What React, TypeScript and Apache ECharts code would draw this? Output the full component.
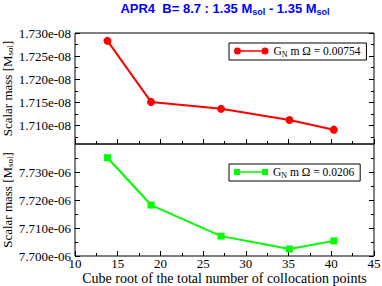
import React, { useEffect, useRef } from 'react';
import * as echarts from 'echarts';

// x: cube root of the total number of collocation points
const xValues = [13.8, 18.9, 27.1, 35.1, 40.3];
// scalar mass, top panel in units of 1e-8 Msol
const topValues = [1.7283, 1.7151, 1.7136, 1.7112, 1.7091];
// scalar mass, bottom panel in units of 1e-6 Msol
const bottomValues = [7.7351, 7.7182, 7.7071, 7.7025, 7.7054];

const topSeriesName = 'G_N m Ω = 0.00754';
const bottomSeriesName = 'G_N m Ω = 0.0206';

const topMajorTicks = [1.71, 1.715, 1.72, 1.725, 1.73];
const topMinorTicks = [1.7075, 1.7125, 1.7175, 1.7225, 1.7275];
const bottomMajorTicks = [7.7, 7.71, 7.72, 7.73];
const bottomMinorTicks = [7.705, 7.715, 7.725, 7.735];
const topExponent = 'e-08';
const bottomExponent = 'e-06';

const SERIF = 'Liberation Serif';

const circleIcon =
  'path://M0,3.5A3.5,3.5,0,1,0,7,3.5A3.5,3.5,0,1,0,0,3.5Z M27.5,3.5A3.5,3.5,0,1,0,34.5,3.5A3.5,3.5,0,1,0,27.5,3.5Z M7,2.75L27.5,2.75L27.5,4.25L7,4.25Z';
const squareIcon =
  'path://M0,0L6,0L6,6L0,6Z M28,0L34,0L34,6L28,6Z M6,2.25L28,2.25L28,3.75L6,3.75Z';

function yAxisDef(
  gridIndex: number,
  min: number,
  max: number,
  ticks: number[],
  position: 'left' | 'right',
  length: number,
  exponent?: string,
  name?: string
) {
  return {
    type: 'value',
    gridIndex,
    min,
    max,
    position,
    name: name || '',
    nameLocation: 'middle',
    nameRotate: 90,
    nameGap: 61,
    nameMoveOverlap: false,
    nameTextStyle: {
      rich: {
        t: { fontFamily: SERIF, fontSize: 13, color: '#000', lineHeight: 13 },
        s: { fontFamily: SERIF, fontSize: 9, color: '#000', lineHeight: 5, verticalAlign: 'bottom' },
      },
    },
    axisLine: { show: false },
    splitLine: { show: false },
    axisTick: {
      show: true,
      inside: true,
      length,
      customValues: ticks,
      lineStyle: { color: '#000', width: 1 },
    },
    axisLabel: exponent
      ? {
          show: true,
          customValues: ticks,
          formatter: (v: number) => v.toFixed(3) + exponent,
          fontFamily: SERIF,
          fontSize: 13,
          color: '#000',
          margin: 4,
        }
      : { show: false },
  };
}

function xAxisDef(gridIndex: number, showLabels: boolean, name?: string) {
  return {
    type: 'value',
    gridIndex,
    min: 10,
    max: 45,
    interval: 5,
    position: 'bottom',
    name: name || '',
    nameLocation: 'middle',
    nameGap: 16,
    nameMoveOverlap: false,
    nameTextStyle: { fontFamily: SERIF, fontSize: 14, color: '#000', lineHeight: 12 },
    axisLine: { show: false },
    splitLine: { show: false },
    axisTick: { show: true, inside: true, length: 5, lineStyle: { color: '#000' } },
    minorTick: { show: true, splitNumber: 2, length: 3, lineStyle: { color: '#000' } },
    minorSplitLine: { show: false },
    axisLabel: showLabels
      ? { show: true, fontFamily: SERIF, fontSize: 13, lineHeight: 12, color: '#000', margin: 1, showMinLabel: true, showMaxLabel: true }
      : { show: false },
  };
}

const yName = '{t|Scalar mass [M}{s|sol}{t|]}';

function legendDef(name: string, icon: string, top: number, w: number, h: number) {
  return {
    data: [{ name, icon }],
    left: 229,
    top,
    orient: 'horizontal',
    padding: [2, 6, 2, 5],
    borderColor: '#000',
    borderWidth: 1,
    backgroundColor: '#fff',
    itemWidth: w,
    itemHeight: h,
    selectedMode: false,
    formatter: (n: string) => '{t|G}{s|N}{t|' + n.slice(3) + '}',
    textStyle: {
      rich: {
        t: { fontFamily: SERIF, fontSize: 11.5, color: '#000', lineHeight: 14 },
        s: { fontFamily: SERIF, fontSize: 8, color: '#000', lineHeight: 7, verticalAlign: 'bottom' },
      },
    },
  };
}

export default function App() {
  const ref = useRef<HTMLDivElement>(null);
  useEffect(() => {
    if (!ref.current) return;
    const chart = echarts.init(ref.current, null, { renderer: 'svg' });
    const option: any = {
      animation: false,
      backgroundColor: '#fff',
      title: {
        text: '{b|APR4  B= 8.7 : 1.35 M}{s|sol}{b| - 1.35 M}{s|sol}',
        left: 225,
        top: 0,
        padding: 0,
        textAlign: 'center',
        textStyle: {
          rich: {
            b: { fontFamily: 'Liberation Sans', fontWeight: 'bold', fontSize: 13, color: '#0000ff', lineHeight: 16 },
            s: { fontFamily: 'Liberation Sans', fontWeight: 'bold', fontSize: 9, color: '#0000ff', lineHeight: 6, verticalAlign: 'bottom' },
          },
        },
      },
      grid: [
        { left: 75, top: 33, width: 299, height: 111, show: true, borderColor: '#000', borderWidth: 1, backgroundColor: 'transparent', containLabel: false, outerBoundsMode: 'none' },
        { left: 75, top: 144, width: 299, height: 112, show: true, borderColor: '#000', borderWidth: 1, backgroundColor: 'transparent', containLabel: false, outerBoundsMode: 'none' },
      ],
      xAxis: [xAxisDef(0, false), xAxisDef(1, true, 'Cube root of the total number of collocation points')],
      yAxis: [
        yAxisDef(0, 1.706, 1.73, topMajorTicks, 'left', 5, topExponent, yName),
        yAxisDef(0, 1.706, 1.73, topMinorTicks, 'left', 3),
        yAxisDef(0, 1.706, 1.73, topMajorTicks, 'right', 5),
        yAxisDef(0, 1.706, 1.73, topMinorTicks, 'right', 3),
        yAxisDef(1, 7.7, 7.74, bottomMajorTicks, 'left', 5, bottomExponent, yName),
        yAxisDef(1, 7.7, 7.74, bottomMinorTicks, 'left', 3),
        yAxisDef(1, 7.7, 7.74, bottomMajorTicks, 'right', 5),
        yAxisDef(1, 7.7, 7.74, bottomMinorTicks, 'right', 3),
      ],
      legend: [
        legendDef(topSeriesName, circleIcon, 43, 34.5, 7),
        legendDef(bottomSeriesName, squareIcon, 164, 34, 6),
      ],
      series: [
        {
          type: 'line',
          name: topSeriesName,
          xAxisIndex: 0,
          yAxisIndex: 0,
          data: xValues.map((x, i) => [x, topValues[i]]),
          color: '#ff0000',
          lineStyle: { color: '#ff0000', width: 2 },
          itemStyle: { color: '#ff0000' },
          symbol: 'circle',
          symbolSize: 8,
          showAllSymbol: true,
        },
        {
          type: 'line',
          name: bottomSeriesName,
          xAxisIndex: 1,
          yAxisIndex: 4,
          data: xValues.map((x, i) => [x, bottomValues[i]]),
          color: '#00ff00',
          lineStyle: { color: '#00ff00', width: 2 },
          itemStyle: { color: '#00ff00' },
          symbol: 'rect',
          symbolSize: 7,
          showAllSymbol: true,
        },
      ],
    };
    chart.setOption(option);
    return () => chart.dispose();
  }, []);
  return <div ref={ref} style={{ position: 'fixed', left: 0, top: 0, width: 382, height: 286 }} />;
}
